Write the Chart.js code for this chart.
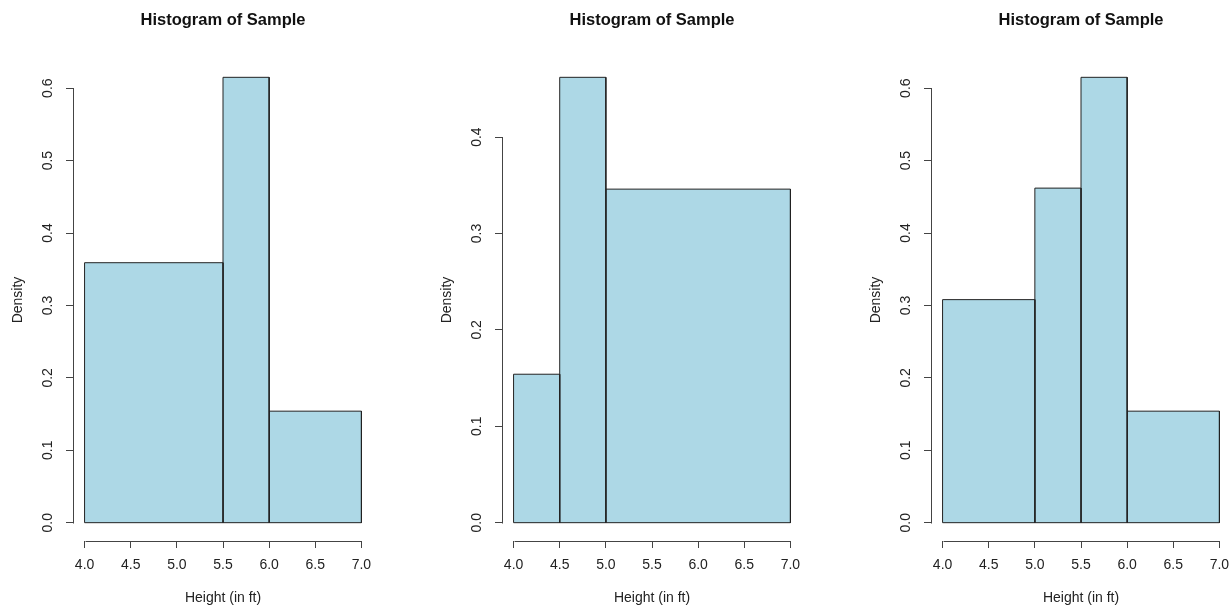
<!DOCTYPE html>
<html>
<head>
<meta charset="utf-8">
<script src="https://cdn.jsdelivr.net/npm/chart.js@4.4.1/dist/chart.umd.min.js"></script>
<style>
  html, body { margin: 0; padding: 0; background: #fff; overflow: hidden; }
  #wrap { position: relative; width: 1230px; height: 607px; overflow: hidden; }
  canvas { position: absolute; top: 0; }
</style>
</head>
<body>
<div id="wrap">
  <canvas id="hist1" width="390" height="607" style="left:0px"></canvas>
  <canvas id="hist2" width="390" height="607" style="left:429px"></canvas>
  <canvas id="hist3" width="390" height="607" style="left:858px"></canvas>
</div>
<script>
// --- Data ---
const mainTitle = 'Histogram of Sample';
const xTitle = 'Height (in ft)';
const yTitle = 'Density';

const breaks1 = [4.0, 5.5, 6.0, 7.0];
const density1 = [0.359, 0.615, 0.154];

const breaks2 = [4.0, 4.5, 5.0, 7.0];
const density2 = [0.154, 0.462, 0.346];

const breaks3 = [4.0, 5.0, 5.5, 6.0, 7.0];
const density3 = [0.308, 0.462, 0.615, 0.154];

const xTicks = [4.0, 4.5, 5.0, 5.5, 6.0, 6.5, 7.0];
const yTicks1 = [0.0, 0.1, 0.2, 0.3, 0.4, 0.5, 0.6];
const yTicks2 = [0.0, 0.1, 0.2, 0.3, 0.4];
const yTicks3 = [0.0, 0.1, 0.2, 0.3, 0.4, 0.5, 0.6];

// --- Style ---
const FONT = '"Liberation Sans", Arial, Helvetica, sans-serif';
const FILL = '#add8e6';
const EDGE = '#222';
const AXIS = '#444';
const TEXT = '#222';

// axis lines only run from first to last tick, like base R
const axisLines = {
  id: 'axisLines',
  afterDraw(chart) {
    const { ctx, chartArea, scales: { x, y } } = chart;
    const yb = Math.round(chartArea.bottom) + 0.5;
    const xl = Math.round(chartArea.left) - 0.5;
    ctx.save();
    ctx.strokeStyle = AXIS;
    ctx.lineWidth = 1;
    ctx.beginPath();
    ctx.moveTo(Math.round(x.getPixelForValue(x.ticks[0].value)) + 0.5, yb);
    ctx.lineTo(Math.round(x.getPixelForValue(x.ticks.at(-1).value)) + 0.5, yb);
    ctx.moveTo(xl, Math.round(y.getPixelForValue(y.ticks[0].value)) + 0.5);
    ctx.lineTo(xl, Math.round(y.getPixelForValue(y.ticks.at(-1).value)) + 0.5);
    ctx.stroke();
    ctx.restore();
  }
};

function binDatasets(breaks, density) {
  const sets = [{
    data: [{ x: breaks[0], y: 0 }, { x: breaks.at(-1), y: 0 }],
    fill: false, borderColor: EDGE, borderWidth: 1, pointRadius: 0
  }];
  density.forEach((d, i) => {
    sets.push({
      data: [
        { x: breaks[i], y: 0 }, { x: breaks[i], y: d },
        { x: breaks[i + 1], y: d }, { x: breaks[i + 1], y: 0 }
      ],
      fill: 'origin', backgroundColor: FILL,
      borderColor: EDGE, borderWidth: 1, pointRadius: 0
    });
  });
  return sets;
}

function makeHist(id, breaks, density, yTicks) {
  const span = breaks.at(-1) - breaks[0];
  const top = Math.max(...density);
  const tickFont = { family: FONT, size: 14 };
  const grid = { drawOnChartArea: false, drawTicks: true, tickLength: 7.5, color: AXIS, lineWidth: 1 };
  return new Chart(document.getElementById(id), {
    type: 'line',
    data: { datasets: binDatasets(breaks, density) },
    options: {
      responsive: false,
      animation: false,
      layout: { padding: { left: 0, right: 17.5, top: 0, bottom: 0 } },
      plugins: {
        legend: { display: false },
        tooltip: { enabled: false },
        title: {
          display: true, text: mainTitle, fullSize: false, color: '#111',
          font: { family: FONT, size: 16.5, weight: 'bold' },
          padding: { top: 10.1, bottom: 29.6 }
        }
      },
      scales: {
        x: {
          type: 'linear',
          min: breaks[0] - 0.04 * span,
          max: breaks.at(-1) + 0.04 * span,
          afterBuildTicks: s => { s.ticks = xTicks.map(v => ({ value: v })); },
          afterFit: s => { s.height = 66.5; },
          ticks: {
            autoSkip: false, minRotation: 0, maxRotation: 0, padding: 8.5,
            font: tickFont, color: TEXT, callback: v => v.toFixed(1)
          },
          grid, border: { display: false },
          title: { display: true, text: xTitle, font: tickFont, color: TEXT, padding: { top: 0, bottom: 0.6 } }
        },
        y: {
          min: -0.04 * top,
          max: 1.04 * top,
          afterBuildTicks: s => { s.ticks = yTicks.map(v => ({ value: v })); },
          afterFit: s => { s.width = 73.5; },
          ticks: {
            autoSkip: false, minRotation: 90, maxRotation: 90, crossAlign: 'center', padding: 8,
            font: tickFont, color: TEXT, callback: v => v.toFixed(1)
          },
          grid, border: { display: false },
          title: { display: true, text: yTitle, font: tickFont, color: TEXT, padding: { top: 9.6, bottom: 0 } }
        }
      }
    },
    plugins: [axisLines]
  });
}

makeHist('hist1', breaks1, density1, yTicks1);
makeHist('hist2', breaks2, density2, yTicks2);
makeHist('hist3', breaks3, density3, yTicks3);
</script>
</body>
</html>
